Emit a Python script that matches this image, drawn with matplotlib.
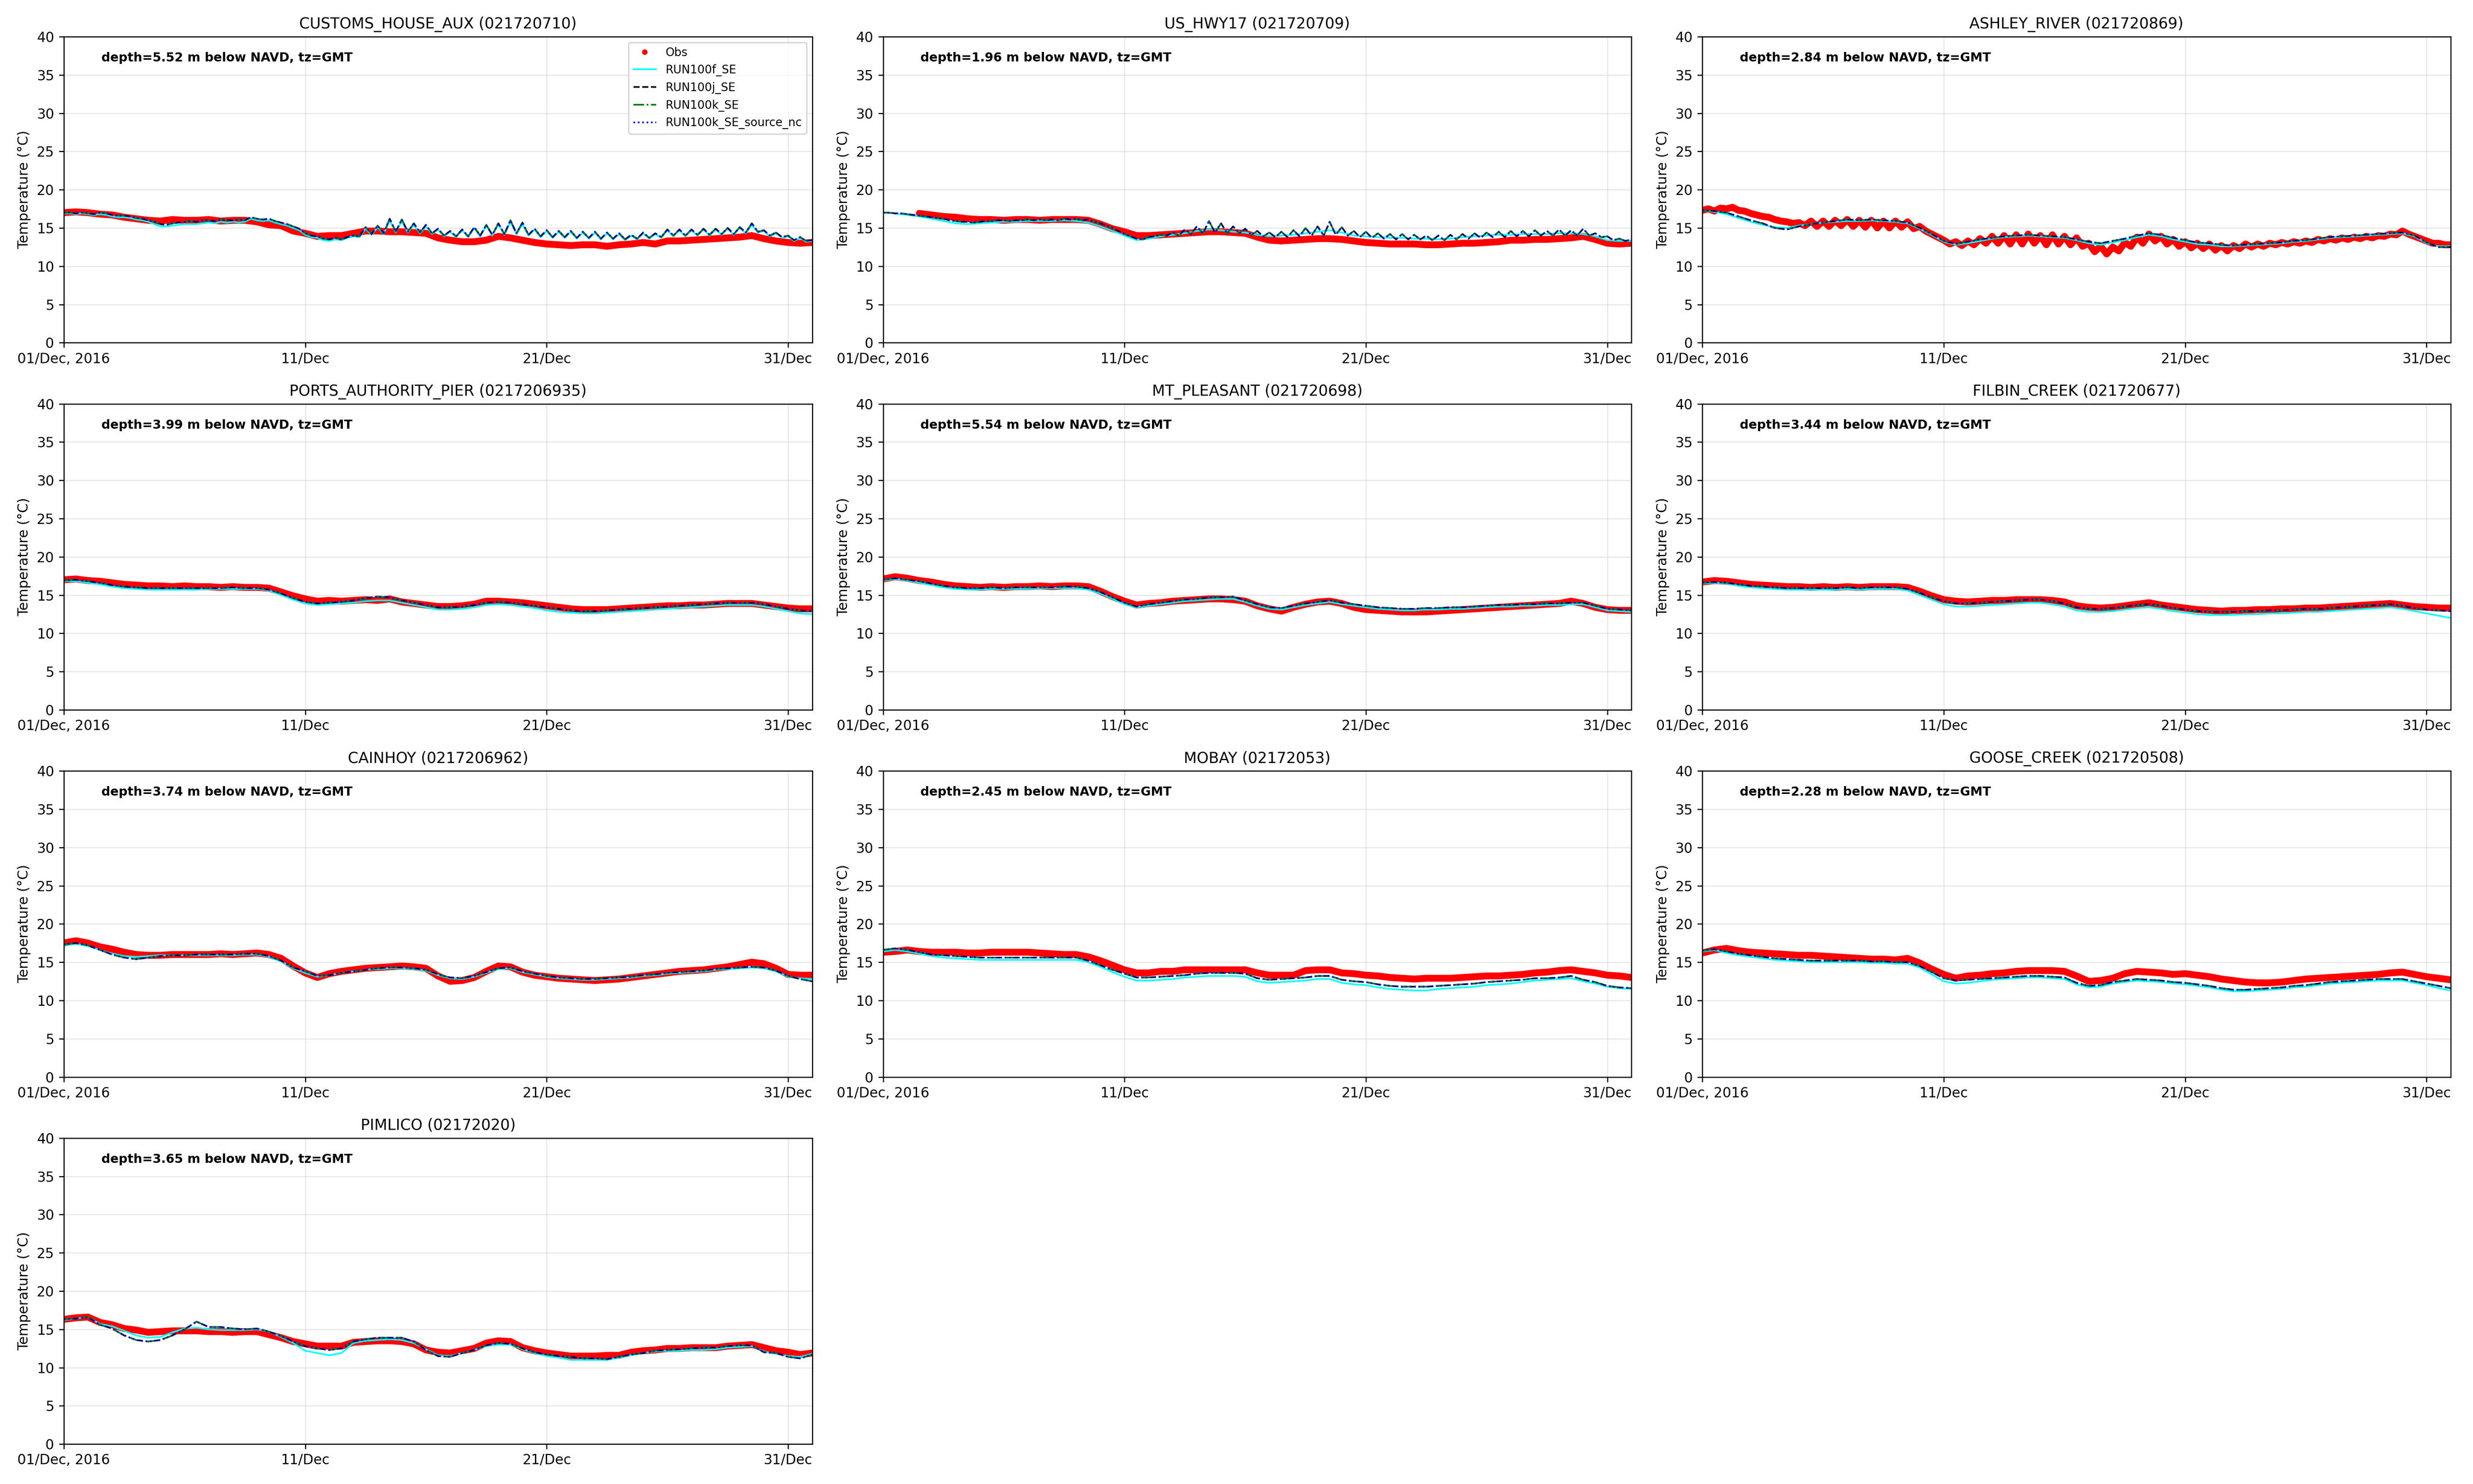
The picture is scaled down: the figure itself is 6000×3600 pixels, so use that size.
import matplotlib

matplotlib.use("Agg")

import matplotlib.pyplot as plt
import numpy as np
import pandas as pd


T_START = "2016-12-01 00:00"
T_END = "2017-01-01 00:00"
TICK_DATES = ["2016-12-01", "2016-12-11", "2016-12-21", "2016-12-31"]
TICK_LABELS = ["01/Dec, 2016", "11/Dec", "21/Dec", "31/Dec"]

STATIONS = [
    "CUSTOMS_HOUSE_AUX", "US_HWY17", "ASHLEY_RIVER", "PORTS_AUTHORITY_PIER",
    "MT_PLEASANT", "FILBIN_CREEK", "CAINHOY", "MOBAY", "GOOSE_CREEK", "PIMLICO",
]
STATION_IDS = [
    "021720710", "021720709", "021720869", "0217206935", "021720698",
    "021720677", "0217206962", "02172053", "021720508", "02172020",
]
DEPTHS = [5.52, 1.96, 2.84, 3.99, 5.54, 3.44, 3.74, 2.45, 2.28, 3.65]

# each series spans 01 Dec 00:00 .. 01 Jan 00:00, evenly spaced (12 h or 6 h steps)

# ---- CUSTOMS_HOUSE_AUX
OBS_CUSTOMS = [
    17.0, 17.1, 17.0, 16.8, 16.7, 16.4, 16.2, 16.0,
    15.9, 16.1, 16.0, 16.0, 16.1, 15.9, 16.0, 16.0,
    15.8, 15.4, 15.3, 14.6, 14.3, 13.9, 14.0, 14.0,
    14.3, 14.6, 14.6, 14.5, 14.5, 14.4, 14.3, 13.7,
    13.4, 13.2, 13.2, 13.4, 13.9, 13.7, 13.4, 13.1,
    12.9, 12.8, 12.7, 12.8, 12.8, 12.6, 12.8, 12.9,
    13.1, 12.9, 13.3, 13.3, 13.4, 13.5, 13.6, 13.7,
    13.8, 14.0, 13.6, 13.3, 13.1, 13.0, 13.1,
]
F_CUSTOMS = [
    16.9, 16.9, 16.8, 16.9, 16.8, 16.7, 16.8, 16.7,
    16.5, 16.4, 16.4, 16.3, 16.1, 16.0, 15.8, 15.5,
    15.2, 15.2, 15.3, 15.4, 15.5, 15.5, 15.5, 15.6,
    15.7, 15.6, 15.8, 15.7, 15.8, 15.7, 15.8, 16.2,
    16.0, 15.9, 16.0, 15.7, 15.5, 15.3, 15.0, 14.7,
    14.1, 13.8, 13.7, 13.4, 13.3, 13.5, 13.4, 13.7,
    13.9, 13.8, 14.9, 14.1, 15.1, 14.2, 16.0, 14.4,
    15.9, 14.4, 15.4, 14.3, 15.2, 14.2, 14.8, 13.9,
    14.5, 13.8, 14.7, 13.8, 15.0, 13.9, 15.3, 14.0,
    15.5, 14.1, 15.8, 14.2, 15.5, 14.0, 14.8, 13.8,
    14.6, 13.7, 14.5, 13.7, 14.5, 13.6, 14.4, 13.6,
    14.4, 13.5, 14.3, 13.5, 14.2, 13.4, 14.0, 13.5,
    14.3, 13.6, 14.2, 13.7, 14.7, 13.9, 14.7, 13.9,
    14.7, 14.0, 14.8, 14.0, 14.8, 14.1, 14.9, 14.1,
    15.0, 14.3, 15.4, 14.4, 14.6, 13.9, 14.3, 13.7,
    13.9, 13.3, 13.7, 13.2, 13.3,
]
J_CUSTOMS = [
    17.0, 17.0, 16.9, 17.0, 16.9, 16.8, 17.0, 16.9,
    16.7, 16.6, 16.6, 16.5, 16.3, 16.2, 16.0, 15.8,
    15.5, 15.4, 15.6, 15.7, 15.8, 15.9, 15.8, 16.0,
    16.0, 15.9, 16.1, 16.0, 16.0, 16.1, 16.0, 16.4,
    16.2, 16.1, 16.2, 15.9, 15.7, 15.5, 15.2, 14.9,
    14.3, 14.0, 13.9, 13.6, 13.5, 13.7, 13.5, 13.8,
    14.0, 13.9, 15.1, 14.2, 15.3, 14.3, 16.2, 14.5,
    16.1, 14.5, 15.6, 14.4, 15.4, 14.3, 14.9, 14.0,
    14.6, 13.9, 14.8, 13.9, 15.1, 14.0, 15.4, 14.1,
    15.6, 14.2, 16.0, 14.3, 15.7, 14.1, 14.9, 13.9,
    14.7, 13.8, 14.6, 13.8, 14.6, 13.7, 14.5, 13.7,
    14.5, 13.6, 14.4, 13.6, 14.3, 13.5, 14.1, 13.6,
    14.4, 13.7, 14.3, 13.8, 14.8, 14.0, 14.8, 14.0,
    14.8, 14.1, 14.9, 14.1, 14.9, 14.2, 15.0, 14.2,
    15.1, 14.4, 15.6, 14.5, 14.7, 14.0, 14.4, 13.8,
    14.0, 13.4, 13.8, 13.3, 13.4,
]

# ---- US_HWY17 (gauge starts late on 02 Dec)
OBS_HWY17 = [
    None, None, None, 16.9, 16.7, 16.5, 16.4, 16.2,
    16.1, 16.1, 16.0, 16.1, 16.1, 16.0, 16.1, 16.1,
    16.1, 16.0, 15.5, 14.9, 14.5, 14.0, 14.0, 14.1,
    14.2, 14.3, 14.4, 14.5, 14.5, 14.4, 14.3, 13.8,
    13.4, 13.3, 13.4, 13.5, 13.6, 13.6, 13.5, 13.3,
    13.1, 13.0, 12.9, 12.9, 12.9, 12.8, 12.8, 12.9,
    13.0, 13.0, 13.1, 13.2, 13.4, 13.4, 13.5, 13.5,
    13.6, 13.7, 13.9, 13.5, 13.0, 12.9, 13.0,
]
F_HWY17 = [
    17.0, 16.9, 16.7, 16.5, 16.2, 15.9, 15.6, 15.5,
    15.6, 15.7, 15.8, 15.8, 15.9, 15.9, 15.9, 16.0,
    15.9, 15.7, 15.2, 14.6, 14.0, 13.4, 13.6, 13.9,
    14.1, 14.3, 14.6, 14.8, 14.7, 14.5, 14.4, 14.1,
    13.9, 14.0, 14.1, 14.3, 14.5, 14.7, 14.4, 14.0,
    13.9, 13.8, 13.7, 13.7, 13.6, 13.6, 13.5, 13.6,
    13.8, 13.9, 14.0, 14.1, 14.1, 14.2, 14.2, 14.2,
    14.3, 14.3, 14.2, 13.9, 13.4, 13.3, 13.3,
]
J_HWY17 = [
    17.0, 17.0, 16.9, 16.9, 16.8, 16.7, 16.6, 16.5,
    16.4, 16.3, 16.2, 16.0, 15.9, 15.8, 15.8, 15.7,
    15.8, 15.9, 15.9, 16.0, 16.0, 15.9, 16.0, 16.0,
    16.1, 16.0, 16.1, 16.0, 16.1, 16.0, 16.2, 16.1,
    16.2, 16.0, 16.1, 15.8, 15.6, 15.3, 15.0, 14.6,
    14.2, 13.9, 13.6, 13.5, 13.8, 13.9, 14.1, 14.0,
    14.4, 14.0, 14.8, 14.2, 15.2, 14.3, 15.9, 14.4,
    15.6, 14.3, 15.2, 14.3, 14.9, 14.1, 14.6, 13.9,
    14.4, 13.8, 14.5, 13.8, 14.7, 13.9, 15.0, 14.0,
    15.2, 14.0, 15.8, 14.1, 15.1, 14.0, 14.6, 13.8,
    14.5, 13.7, 14.3, 13.6, 14.2, 13.5, 14.2, 13.5,
    14.1, 13.5, 14.0, 13.4, 14.0, 13.4, 14.1, 13.5,
    14.2, 13.6, 14.3, 13.7, 14.4, 13.8, 14.5, 13.8,
    14.6, 13.9, 14.6, 13.9, 14.7, 14.0, 14.6, 14.0,
    14.8, 14.0, 14.7, 14.0, 14.9, 14.0, 14.3, 13.8,
    13.9, 13.4, 13.6, 13.3, 13.5,
]

# ---- ASHLEY_RIVER
OBS_ASHLEY = [
    17.3, 17.5, 17.2, 17.6, 17.5, 17.7, 17.3, 17.2,
    16.9, 16.7, 16.5, 16.4, 16.1, 15.9, 15.8, 15.6,
    15.7, 15.3, 15.9, 15.2, 15.9, 15.2, 16.0, 15.3,
    16.1, 15.2, 16.0, 15.1, 16.0, 15.0, 15.9, 15.0,
    15.9, 15.1, 15.8, 14.9, 15.2, 14.6, 14.2, 13.8,
    13.4, 12.9, 13.2, 12.7, 13.3, 12.8, 13.6, 13.0,
    13.9, 13.0, 14.0, 12.9, 14.1, 12.9, 14.2, 13.0,
    14.0, 12.8, 14.1, 12.9, 13.9, 12.8, 13.7, 12.6,
    13.0, 11.9, 12.6, 11.6, 12.5, 12.0, 13.1, 12.6,
    13.8, 13.0, 14.2, 13.3, 13.9, 12.9, 13.5, 12.6,
    13.2, 12.4, 13.0, 12.3, 12.9, 12.1, 12.7, 12.0,
    12.7, 12.3, 12.9, 12.5, 12.9, 12.6, 13.0, 12.8,
    13.1, 12.9, 13.2, 13.0, 13.3, 13.1, 13.5, 13.3,
    13.6, 13.4, 13.7, 13.5, 13.8, 13.6, 13.9, 13.7,
    14.0, 13.9, 14.2, 14.1, 14.6, 14.2, 13.9, 13.6,
    13.3, 13.0, 13.0, 12.8, 12.8,
]
F_ASHLEY = [
    17.3, 17.1, 16.8, 16.3, 15.8, 15.4, 15.1, 15.0,
    15.3, 15.5, 15.7, 15.8, 15.9, 15.9, 16.0, 15.9,
    15.8, 15.6, 14.9, 14.1, 13.2, 12.8, 13.0, 13.3,
    13.6, 13.8, 13.9, 14.0, 13.9, 13.8, 13.7, 13.4,
    13.0, 12.8, 13.1, 13.4, 13.8, 14.1, 13.9, 13.5,
    13.2, 12.9, 12.8, 12.6, 12.6, 12.7, 12.8, 12.9,
    13.0, 13.2, 13.3, 13.5, 13.7, 13.8, 13.9, 14.0,
    14.1, 14.2, 14.3, 13.9, 13.0, 12.6, 12.6,
]
J_ASHLEY = [
    17.3, 17.2, 17.0, 16.5, 16.0, 15.6, 15.0, 14.8,
    15.2, 15.5, 15.7, 15.9, 16.1, 16.0, 16.1, 16.0,
    15.9, 15.7, 15.0, 14.2, 13.3, 12.9, 13.2, 13.5,
    13.7, 13.9, 14.0, 14.1, 14.0, 13.9, 13.8, 13.5,
    13.2, 13.0, 13.3, 13.6, 14.0, 14.3, 14.1, 13.7,
    13.4, 13.1, 13.0, 12.8, 12.7, 12.8, 12.9, 13.0,
    13.1, 13.3, 13.4, 13.6, 13.8, 13.9, 14.0, 14.1,
    14.2, 14.3, 14.4, 14.0, 13.1, 12.5, 12.5,
]

# ---- PORTS_AUTHORITY_PIER
OBS_PORTS = [
    17.0, 17.1, 16.9, 16.8, 16.6, 16.4, 16.3, 16.2,
    16.2, 16.1, 16.2, 16.1, 16.1, 16.0, 16.1, 16.0,
    16.0, 15.9, 15.4, 14.9, 14.5, 14.2, 14.3, 14.2,
    14.3, 14.4, 14.3, 14.5, 14.1, 13.9, 13.7, 13.5,
    13.5, 13.6, 13.8, 14.2, 14.2, 14.1, 14.0, 13.8,
    13.6, 13.4, 13.2, 13.1, 13.1, 13.1, 13.2, 13.3,
    13.4, 13.5, 13.6, 13.6, 13.7, 13.7, 13.8, 13.9,
    13.9, 13.9, 13.7, 13.5, 13.3, 13.2, 13.2,
]
F_PORTS = [
    16.8, 16.8, 16.6, 16.4, 16.1, 15.9, 15.8, 15.7,
    15.7, 15.7, 15.7, 15.7, 15.8, 15.8, 15.8, 15.8,
    15.8, 15.6, 15.0, 14.4, 13.9, 13.7, 13.8, 13.9,
    14.0, 14.2, 14.3, 14.3, 14.0, 13.7, 13.4, 13.1,
    13.1, 13.2, 13.4, 13.7, 13.8, 13.7, 13.5, 13.3,
    13.0, 12.8, 12.7, 12.6, 12.6, 12.7, 12.8, 12.9,
    13.0, 13.1, 13.2, 13.3, 13.4, 13.5, 13.6, 13.7,
    13.7, 13.7, 13.5, 13.2, 12.9, 12.6, 12.5,
]
J_PORTS = [
    16.9, 17.0, 16.8, 16.6, 16.3, 16.1, 16.0, 15.9,
    15.9, 15.9, 15.9, 15.9, 15.9, 15.9, 16.0, 15.9,
    15.9, 15.7, 15.2, 14.6, 14.1, 13.9, 14.0, 14.1,
    14.3, 14.6, 14.8, 14.7, 14.3, 14.0, 13.7, 13.4,
    13.4, 13.5, 13.7, 14.0, 14.1, 14.0, 13.8, 13.6,
    13.4, 13.2, 13.0, 12.9, 12.9, 13.0, 13.1, 13.2,
    13.3, 13.4, 13.5, 13.6, 13.7, 13.8, 13.9, 14.0,
    14.0, 14.0, 13.8, 13.5, 13.2, 13.0, 12.9,
]

# ---- MT_PLEASANT
OBS_MTP = [
    17.1, 17.4, 17.2, 16.9, 16.7, 16.4, 16.2, 16.1,
    16.0, 16.1, 16.0, 16.1, 16.1, 16.2, 16.1, 16.2,
    16.2, 16.1, 15.5, 14.8, 14.2, 13.7, 13.9, 14.0,
    14.2, 14.3, 14.4, 14.5, 14.5, 14.4, 14.2, 13.6,
    13.2, 12.9, 13.4, 13.8, 14.1, 14.2, 13.9, 13.4,
    13.1, 13.0, 12.9, 12.8, 12.8, 12.8, 12.9, 13.0,
    13.1, 13.2, 13.3, 13.4, 13.5, 13.6, 13.7, 13.8,
    13.9, 14.2, 13.9, 13.4, 13.1, 13.0, 13.0,
]
F_MTP = [
    16.9, 17.1, 16.9, 16.6, 16.3, 16.0, 15.8, 15.7,
    15.7, 15.8, 15.8, 15.8, 15.8, 15.9, 15.9, 15.9,
    15.9, 15.7, 15.2, 14.5, 13.8, 13.4, 13.6, 13.8,
    14.0, 14.2, 14.3, 14.4, 14.5, 14.5, 14.1, 13.6,
    13.2, 13.1, 13.4, 13.7, 13.9, 14.1, 13.8, 13.6,
    13.4, 13.2, 13.1, 13.0, 13.0, 13.1, 13.1, 13.2,
    13.2, 13.3, 13.4, 13.5, 13.5, 13.6, 13.6, 13.7,
    13.7, 13.8, 13.8, 13.4, 13.0, 12.9, 12.8,
]
J_MTP = [
    17.0, 17.2, 17.0, 16.8, 16.5, 16.2, 16.0, 15.9,
    15.9, 16.0, 15.9, 16.0, 16.0, 16.0, 16.0, 16.1,
    16.1, 15.9, 15.4, 14.7, 14.0, 13.5, 13.8, 14.0,
    14.2, 14.4, 14.5, 14.7, 14.7, 14.8, 14.3, 13.8,
    13.4, 13.3, 13.6, 13.9, 14.1, 14.3, 14.0, 13.8,
    13.6, 13.4, 13.3, 13.2, 13.2, 13.3, 13.3, 13.4,
    13.4, 13.5, 13.6, 13.7, 13.7, 13.8, 13.8, 13.9,
    13.9, 14.0, 14.0, 13.6, 13.2, 13.1, 13.0,
]

# ---- FILBIN_CREEK
OBS_FILBIN = [
    16.7, 16.9, 16.8, 16.6, 16.4, 16.3, 16.2, 16.1,
    16.1, 16.0, 16.1, 16.0, 16.1, 16.0, 16.1, 16.1,
    16.1, 16.0, 15.5, 14.9, 14.4, 14.2, 14.1, 14.2,
    14.3, 14.3, 14.4, 14.4, 14.4, 14.3, 14.1, 13.6,
    13.4, 13.3, 13.4, 13.6, 13.8, 14.0, 13.7, 13.5,
    13.3, 13.1, 13.0, 12.9, 13.0, 13.0, 13.1, 13.1,
    13.2, 13.2, 13.3, 13.3, 13.4, 13.5, 13.6, 13.7,
    13.8, 13.9, 13.7, 13.5, 13.4, 13.3, 13.3,
]
F_FILBIN = [
    16.5, 16.6, 16.5, 16.2, 16.0, 15.9, 15.8, 15.7,
    15.7, 15.7, 15.7, 15.7, 15.8, 15.7, 15.8, 15.8,
    15.8, 15.6, 15.0, 14.4, 13.8, 13.5, 13.5, 13.6,
    13.7, 13.8, 13.9, 14.0, 14.0, 13.8, 13.5, 13.0,
    12.8, 12.8, 12.9, 13.1, 13.3, 13.4, 13.2, 12.9,
    12.7, 12.5, 12.4, 12.4, 12.4, 12.5, 12.5, 12.6,
    12.6, 12.7, 12.8, 12.8, 12.9, 13.0, 13.1, 13.2,
    13.3, 13.4, 13.2, 12.9, 12.6, 12.3, 12.0,
]
J_FILBIN = [
    16.6, 16.7, 16.6, 16.4, 16.2, 16.1, 16.0, 15.9,
    15.9, 15.9, 15.9, 15.9, 16.0, 15.9, 16.0, 16.0,
    16.0, 15.8, 15.3, 14.7, 14.2, 13.9, 13.9, 14.0,
    14.1, 14.2, 14.3, 14.4, 14.4, 14.2, 13.9, 13.4,
    13.2, 13.2, 13.3, 13.5, 13.7, 13.8, 13.6, 13.3,
    13.1, 12.9, 12.8, 12.8, 12.8, 12.9, 12.9, 13.0,
    13.0, 13.1, 13.2, 13.2, 13.3, 13.4, 13.5, 13.6,
    13.7, 13.8, 13.6, 13.3, 13.1, 13.0, 12.9,
]

# ---- CAINHOY
OBS_CAINHOY = [
    17.5, 17.8, 17.5, 17.0, 16.7, 16.3, 16.0, 15.9,
    15.9, 16.0, 16.0, 16.0, 16.0, 16.1, 16.0, 16.1,
    16.2, 16.0, 15.5, 14.5, 13.6, 13.0, 13.5, 13.8,
    14.0, 14.2, 14.3, 14.4, 14.5, 14.4, 14.2, 13.2,
    12.5, 12.6, 13.0, 13.8, 14.5, 14.4, 13.7, 13.3,
    13.1, 12.9, 12.8, 12.7, 12.6, 12.7, 12.8, 13.0,
    13.2, 13.4, 13.6, 13.8, 13.9, 14.0, 14.2, 14.4,
    14.7, 15.0, 14.8, 14.2, 13.4, 13.3, 13.3,
]
F_CAINHOY = [
    17.2, 17.4, 17.1, 16.6, 16.1, 15.8, 15.7, 15.8,
    15.9, 15.9, 15.9, 15.9, 15.9, 15.9, 15.9, 16.0,
    16.0, 15.7, 15.1, 14.2, 13.6, 13.1, 13.3, 13.6,
    13.8, 14.0, 14.1, 14.2, 14.2, 14.1, 13.9, 13.3,
    12.9, 12.8, 13.1, 13.6, 14.1, 14.2, 13.7, 13.4,
    13.1, 12.9, 12.8, 12.7, 12.7, 12.8, 12.9, 13.0,
    13.2, 13.3, 13.5, 13.6, 13.7, 13.8, 14.0, 14.1,
    14.2, 14.3, 14.2, 13.8, 13.1, 12.9, 12.8,
]
J_CAINHOY = [
    17.3, 17.5, 17.2, 16.6, 16.0, 15.6, 15.4, 15.6,
    15.8, 15.9, 15.9, 16.0, 16.0, 16.0, 16.0, 16.1,
    16.1, 15.8, 15.2, 14.3, 13.8, 13.2, 13.3, 13.6,
    13.8, 14.0, 14.2, 14.3, 14.3, 14.2, 14.0, 13.4,
    13.0, 12.9, 13.2, 13.7, 14.2, 14.3, 13.8, 13.5,
    13.2, 13.0, 12.9, 12.8, 12.8, 12.9, 13.0, 13.1,
    13.3, 13.4, 13.6, 13.7, 13.8, 13.9, 14.1, 14.2,
    14.3, 14.4, 14.3, 13.9, 13.2, 12.8, 12.5,
]

# ---- MOBAY
OBS_MOBAY = [
    16.3, 16.4, 16.6, 16.4, 16.3, 16.3, 16.3, 16.2,
    16.2, 16.3, 16.3, 16.3, 16.3, 16.2, 16.1, 16.0,
    16.0, 15.7, 15.2, 14.6, 14.0, 13.6, 13.6, 13.8,
    13.8, 14.0, 14.0, 14.0, 14.0, 14.0, 14.0, 13.6,
    13.3, 13.3, 13.3, 13.9, 14.0, 14.0, 13.6, 13.5,
    13.3, 13.2, 13.0, 12.9, 12.8, 12.9, 12.9, 12.9,
    13.0, 13.1, 13.2, 13.2, 13.3, 13.4, 13.6, 13.7,
    13.9, 14.0, 13.8, 13.6, 13.3, 13.2, 13.0,
]
F_MOBAY = [
    16.4, 16.6, 16.4, 16.1, 15.8, 15.6, 15.5, 15.4,
    15.3, 15.3, 15.3, 15.3, 15.3, 15.3, 15.3, 15.3,
    15.3, 15.0, 14.4, 13.7, 13.1, 12.6, 12.6, 12.7,
    12.8, 13.0, 13.1, 13.2, 13.2, 13.2, 13.1, 12.5,
    12.3, 12.4, 12.5, 12.6, 12.8, 12.8, 12.3, 12.1,
    12.0, 11.7, 11.5, 11.4, 11.3, 11.3, 11.5, 11.6,
    11.7, 11.8, 12.0, 12.1, 12.2, 12.4, 12.6, 12.7,
    12.8, 12.9, 12.5, 12.2, 11.8, 11.6, 11.5,
]
J_MOBAY = [
    16.6, 16.8, 16.6, 16.3, 16.0, 15.9, 15.8, 15.7,
    15.6, 15.6, 15.6, 15.6, 15.6, 15.6, 15.6, 15.6,
    15.6, 15.2, 14.6, 14.0, 13.5, 13.0, 13.0, 13.1,
    13.2, 13.3, 13.5, 13.6, 13.6, 13.6, 13.5, 12.9,
    12.7, 12.8, 12.9, 13.0, 13.2, 13.2, 12.7, 12.5,
    12.4, 12.1, 11.9, 11.8, 11.8, 11.8, 11.9, 12.0,
    12.1, 12.2, 12.4, 12.5, 12.6, 12.7, 12.9, 12.9,
    13.0, 13.2, 12.7, 12.4, 11.9, 11.7, 11.6,
]

# ---- GOOSE_CREEK
OBS_GOOSE = [
    16.2, 16.6, 16.8, 16.5, 16.3, 16.2, 16.1, 16.0,
    15.9, 15.9, 15.8, 15.7, 15.6, 15.5, 15.4, 15.4,
    15.3, 15.5, 14.9, 14.1, 13.4, 12.9, 13.2, 13.3,
    13.5, 13.6, 13.8, 13.9, 13.9, 13.9, 13.8, 13.2,
    12.5, 12.6, 12.9, 13.5, 13.8, 13.7, 13.6, 13.4,
    13.5, 13.3, 13.1, 12.8, 12.6, 12.4, 12.3, 12.3,
    12.4, 12.6, 12.8, 12.9, 13.0, 13.1, 13.2, 13.3,
    13.4, 13.6, 13.7, 13.4, 13.1, 12.9, 12.7,
]
F_GOOSE = [
    16.4, 16.6, 16.2, 15.9, 15.7, 15.5, 15.3, 15.2,
    15.1, 15.0, 15.0, 15.0, 15.0, 15.0, 14.9, 14.9,
    14.8, 14.8, 14.3, 13.4, 12.5, 12.2, 12.3, 12.5,
    12.7, 12.8, 12.9, 13.0, 13.0, 12.9, 12.8, 12.1,
    11.7, 11.8, 12.2, 12.4, 12.6, 12.5, 12.4, 12.2,
    12.1, 11.9, 11.7, 11.4, 11.2, 11.2, 11.3, 11.4,
    11.5, 11.7, 11.8, 12.0, 12.2, 12.3, 12.4, 12.5,
    12.6, 12.6, 12.6, 12.3, 12.0, 11.6, 11.3,
]
J_GOOSE = [
    16.5, 16.7, 16.4, 16.1, 15.9, 15.7, 15.5, 15.4,
    15.3, 15.2, 15.2, 15.2, 15.2, 15.2, 15.1, 15.1,
    15.0, 15.0, 14.5, 13.7, 12.9, 12.6, 12.7, 12.8,
    12.9, 13.0, 13.1, 13.2, 13.2, 13.1, 13.0, 12.3,
    11.9, 12.0, 12.4, 12.6, 12.8, 12.7, 12.6, 12.4,
    12.3, 12.1, 11.9, 11.6, 11.4, 11.4, 11.5, 11.6,
    11.7, 11.9, 12.0, 12.2, 12.4, 12.5, 12.6, 12.7,
    12.8, 12.8, 12.8, 12.5, 12.2, 11.9, 11.6,
]

# ---- PIMLICO
OBS_PIMLICO = [
    16.3, 16.5, 16.6, 15.9, 15.6, 15.1, 14.9, 14.6,
    14.7, 14.8, 14.8, 14.8, 14.7, 14.7, 14.6, 14.7,
    14.7, 14.3, 13.9, 13.4, 13.1, 12.8, 12.8, 12.8,
    13.3, 13.4, 13.5, 13.5, 13.4, 13.1, 12.3, 12.0,
    11.9, 12.2, 12.5, 13.2, 13.5, 13.4, 12.6, 12.2,
    11.9, 11.7, 11.5, 11.5, 11.5, 11.6, 11.6, 12.0,
    12.2, 12.3, 12.5, 12.5, 12.6, 12.6, 12.6, 12.8,
    12.9, 13.0, 12.6, 12.2, 12.0, 11.7, 11.9,
]
F_PIMLICO = [
    16.2, 16.4, 16.6, 15.7, 15.4, 14.8, 14.2, 13.9,
    14.0, 14.6, 15.1, 15.2, 15.0, 14.9, 14.9, 14.9,
    15.0, 14.7, 14.0, 13.2, 12.2, 11.9, 11.6, 11.9,
    13.2, 13.5, 13.6, 13.7, 13.6, 13.2, 12.4, 11.6,
    11.5, 11.9, 12.3, 12.8, 13.0, 13.0, 12.4, 11.9,
    11.5, 11.3, 11.0, 11.0, 11.0, 11.0, 11.3, 11.6,
    11.9, 12.1, 12.2, 12.2, 12.3, 12.3, 12.4, 12.6,
    12.7, 12.8, 12.1, 11.8, 11.5, 11.4, 11.8,
]
J_PIMLICO = [
    16.3, 16.4, 16.6, 15.6, 15.1, 14.2, 13.6, 13.4,
    13.6, 14.2, 15.0, 16.0, 15.3, 15.3, 15.1, 15.0,
    15.1, 14.7, 14.1, 13.4, 12.8, 12.5, 12.3, 12.5,
    13.4, 13.7, 13.9, 13.9, 13.9, 13.4, 12.3, 11.5,
    11.4, 11.9, 12.3, 12.9, 13.2, 13.1, 12.5, 12.0,
    11.7, 11.5, 11.4, 11.2, 11.2, 11.1, 11.4, 11.7,
    11.9, 12.2, 12.3, 12.4, 12.5, 12.6, 12.6, 12.8,
    12.9, 12.9, 12.0, 11.9, 11.4, 11.2, 11.7,
]

OBS = [OBS_CUSTOMS, OBS_HWY17, OBS_ASHLEY, OBS_PORTS, OBS_MTP,
       OBS_FILBIN, OBS_CAINHOY, OBS_MOBAY, OBS_GOOSE, OBS_PIMLICO]
RUN100F_SE = [F_CUSTOMS, F_HWY17, F_ASHLEY, F_PORTS, F_MTP,
              F_FILBIN, F_CAINHOY, F_MOBAY, F_GOOSE, F_PIMLICO]
RUN100J_SE = [J_CUSTOMS, J_HWY17, J_ASHLEY, J_PORTS, J_MTP,
              J_FILBIN, J_CAINHOY, J_MOBAY, J_GOOSE, J_PIMLICO]
# the k runs sit right on top of run j at this scale
RUN100K_SE = RUN100J_SE
RUN100K_SE_SOURCE_NC = RUN100J_SE


def time_axis(values):
    return pd.date_range(T_START, T_END, periods=len(values))


fig = plt.figure(figsize=(25, 15), dpi=240)
gs = fig.add_gridspec(
    4, 3, left=0.0258, right=0.991, bottom=0.0269, top=0.9753,
    wspace=0.0947, hspace=0.1995,
)

for i, station in enumerate(STATIONS):
    ax = fig.add_subplot(gs[i // 3, i % 3])

    obs = np.array(OBS[i], dtype=float)
    t_obs = time_axis(obs)
    ax.plot(t_obs, obs, color="red", lw=5, solid_capstyle="round",
            solid_joinstyle="round", label="_nolegend_")
    ax.plot(t_obs, obs, "r.", label="Obs")

    f = RUN100F_SE[i]
    ax.plot(time_axis(f), f, color="cyan", ls="-", lw=1.2, label="RUN100f_SE")
    j = RUN100J_SE[i]
    ax.plot(time_axis(j), j, color="k", ls="--", lw=1.2, label="RUN100j_SE")
    k = RUN100K_SE[i]
    ax.plot(time_axis(k), k, color="g", ls="-.", lw=1.2, label="RUN100k_SE")
    ks = RUN100K_SE_SOURCE_NC[i]
    ax.plot(time_axis(ks), ks, color="b", ls=":", lw=1.2,
            label="RUN100k_SE_source_nc")

    ax.set_xlim(pd.Timestamp(T_START), pd.Timestamp(T_END))
    ax.set_ylim(0, 40)
    ax.set_yticks(np.arange(0, 41, 5))
    ax.set_xticks(pd.to_datetime(TICK_DATES))
    ax.set_xticklabels(TICK_LABELS)
    ax.grid(True, color="#b0b0b0", alpha=0.3)
    ax.set_ylabel("Temperature (°C)")
    ax.set_title(f"{station} ({STATION_IDS[i]})", fontsize=11)
    ax.text(0.05, 0.95, f"depth={DEPTHS[i]:.2f} m below NAVD, tz=GMT",
            transform=ax.transAxes, ha="left", va="top",
            fontsize=9, fontweight="bold")

    if i == 0:
        ax.legend(loc="upper right", fontsize="small")

fig.savefig("out.png", dpi=240)
